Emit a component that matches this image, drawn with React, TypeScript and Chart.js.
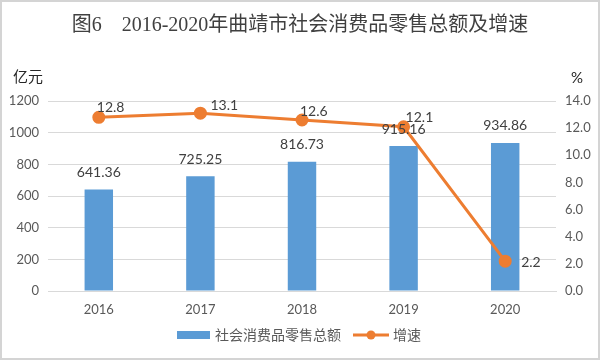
import React, { useEffect, useRef } from "react";
import { Chart, registerables } from "chart.js";

Chart.register(...registerables);

const categories = ["2016", "2017", "2018", "2019", "2020"];
const salesValues = [641.36, 725.25, 816.73, 915.16, 934.86];
const growthValues = [12.8, 13.1, 12.6, 12.1, 2.2];
const leftTicks = [0, 200, 400, 600, 800, 1000, 1200];
const rightTicks = [0, 2, 4, 6, 8, 10, 12, 14];
const titleText = "图6　2016-2020年曲靖市社会消费品零售总额及增速";
const salesLabel = "社会消费品零售总额";
const growthLabel = "增速";
const leftUnit = "亿元";
const rightUnit = "%";

const BAR = "#5B9BD5";
const LINE = "#ED7D31";
const FONT = "Lato, 'Noto Sans', 'Noto Sans CJK SC', sans-serif";
const CJK = "'Noto Sans CJK SC', sans-serif";

// label offsets for the line points (dx, dy) relative to the point
const growthLabelOffsets: [number, number, string][] = [
  [-2, -10, "left"],
  [10, -8, "left"],
  [-2, -9, "left"],
  [2, -9, "left"],
  [16, 1, "left"],
];

const decorPlugin = {
  id: "decor",
  afterDraw(chart: any) {
    const ctx = chart.ctx as CanvasRenderingContext2D;
    ctx.save();
    // border
    ctx.strokeStyle = "#d4d4d4";
    ctx.lineWidth = 2;
    ctx.strokeRect(1, 1, chart.width - 2, chart.height - 2);

    // title
    ctx.fillStyle = "#404040";
    ctx.font = `20px 'Liberation Serif', 'Noto Sans CJK SC', serif`;
    ctx.textAlign = "center";
    ctx.textBaseline = "middle";
    ctx.fillText(titleText, 300, 26);

    // units
    ctx.font = `15px ${CJK}`;
    ctx.fillStyle = "#262626";
    ctx.textAlign = "left";
    ctx.fillText(leftUnit, 13, 76);
    ctx.font = `15px ${FONT}`;
    ctx.fillText(rightUnit, 571, 78);

    // bar labels
    const barMeta = chart.getDatasetMeta(0);
    ctx.font = `14px ${FONT}`;
    ctx.fillStyle = "#404040";
    ctx.textAlign = "center";
    barMeta.data.forEach((el: any, i: number) => {
      ctx.fillText(salesValues[i].toFixed(2), el.x, el.y - 17);
    });

    // line labels
    const lineMeta = chart.getDatasetMeta(1);
    lineMeta.data.forEach((el: any, i: number) => {
      const [dx, dy, al] = growthLabelOffsets[i];
      ctx.textAlign = al as CanvasTextAlign;
      ctx.fillText(growthValues[i].toFixed(1), el.x + dx, el.y + dy);
    });

    // legend
    ctx.fillStyle = BAR;
    ctx.fillRect(177, 331, 33, 8);
    ctx.fillStyle = "#595959";
    ctx.font = `14px ${CJK}`;
    ctx.textAlign = "left";
    ctx.fillText(salesLabel, 215, 335);
    ctx.strokeStyle = LINE;
    ctx.lineWidth = 3;
    ctx.beginPath();
    ctx.moveTo(353, 335);
    ctx.lineTo(389, 335);
    ctx.stroke();
    ctx.fillStyle = LINE;
    ctx.beginPath();
    ctx.arc(371, 335, 4.5, 0, Math.PI * 2);
    ctx.fill();
    ctx.fillStyle = "#595959";
    ctx.fillText(growthLabel, 393, 335);
    ctx.restore();
  },
};

export default function App() {
  const ref = useRef<HTMLCanvasElement>(null);
  useEffect(() => {
    document.body.style.margin = "0";
    const chart = new Chart(ref.current!, {
      type: "bar",
      data: {
        labels: categories,
        datasets: [
          {
            type: "bar",
            label: salesLabel,
            data: salesValues,
            backgroundColor: BAR,
            yAxisID: "y",
            barPercentage: 0.56,
            categoryPercentage: 0.5,
            order: 2,
          },
          {
            type: "line",
            label: growthLabel,
            data: growthValues,
            borderColor: LINE,
            backgroundColor: LINE,
            borderWidth: 3,
            pointRadius: 5,
            pointHoverRadius: 5,
            pointBackgroundColor: LINE,
            pointBorderColor: LINE,
            yAxisID: "y1",
            tension: 0,
            order: 1,
          },
        ],
      },
      options: {
        responsive: false,
        animation: false,
        layout: { padding: { top: 101, left: 0, right: 0, bottom: 0 } },
        plugins: { legend: { display: false }, tooltip: { enabled: false }, title: { display: false } },
        scales: {
          x: {
            grid: { display: false, drawTicks: false },
            border: { display: true, color: "#d9d9d9" },
            ticks: { color: "#595959", font: { family: FONT, size: 13 }, padding: 11 },
            afterFit: (axis: any) => {
              axis.height = 69;
            },
          },
          y: {
            position: "left",
            min: 0,
            max: 1200,
            afterBuildTicks: (axis: any) => {
              axis.ticks = leftTicks.map((v) => ({ value: v }));
            },
            grid: { color: "#d9d9d9", drawTicks: false },
            border: { display: false },
            ticks: {
              color: "#595959",
              font: { family: FONT, size: 13 },
              padding: 9,
              callback: (v: any) => String(v),
            },
            afterFit: (axis: any) => {
              axis.width = 48;
            },
          },
          y1: {
            position: "right",
            min: 0,
            max: 14,
            afterBuildTicks: (axis: any) => {
              axis.ticks = rightTicks.map((v) => ({ value: v }));
            },
            grid: { display: false, drawTicks: false },
            border: { display: false },
            ticks: {
              color: "#595959",
              font: { family: FONT, size: 13 },
              padding: 9,
              callback: (v: any) => Number(v).toFixed(1),
            },
            afterFit: (axis: any) => {
              axis.width = 44;
            },
          },
        },
      },
      plugins: [decorPlugin],
    });
    return () => chart.destroy();
  }, []);
  return <canvas ref={ref} width={600} height={360} style={{ display: "block" }} />;
}
